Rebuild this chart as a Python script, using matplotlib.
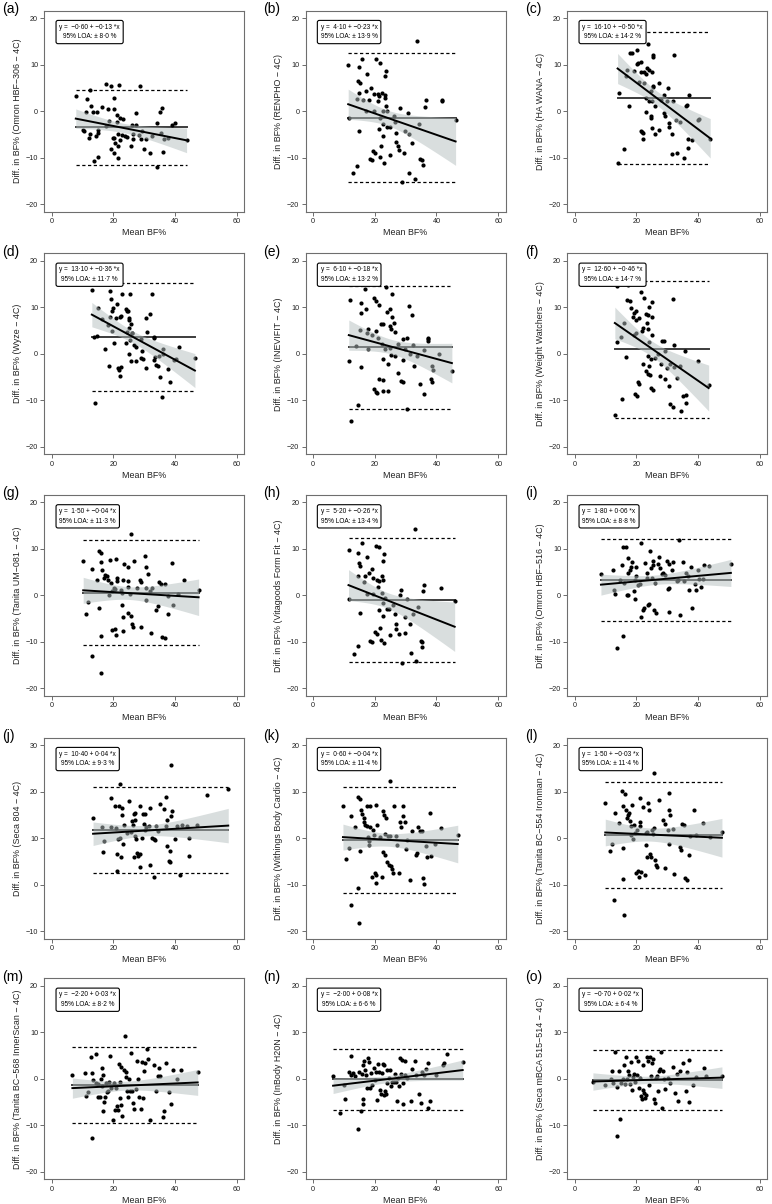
import numpy as np
import matplotlib.pyplot as plt

plt.rcParams['font.family'] = ['Liberation Sans', 'DejaVu Sans']

# (a) Omron HBF-306
a_x = [7.8, 11.4, 12.4, 12.8, 11.1, 13.3, 14.8, 16.4, 17.7, 19.2, 21.8, 28.6, 18.1, 20.3, 20.3, 21.1, 22.2,
       23.1, 18.5, 17.6, 21.0, 10.3, 10.6, 12.3, 12.2, 14.2, 15.0, 15.0, 19.8, 20.2, 21.5, 20.6, 22.0, 22.8,
       23.9, 21.5, 19.2, 20.2, 21.5, 15.0, 13.8, 25.6, 24.5, 26.5, 26.5, 26.0, 27.2, 27.4, 28.2, 28.8, 29.3,
       29.9, 30.5, 31.7, 32.4, 34.2, 35.0, 35.7, 35.4, 36.0, 34.2, 36.4, 37.6, 39.1, 39.8, 43.7]
a_y = [3.3, 2.6, 4.6, 1.1, -0.1, -0.3, -0.3, 0.9, 5.9, 5.4, 5.6, 5.4, 0.4, 2.8, 0.4, -0.9, -1.4,
       -1.8, -2.1, -3.1, -2.4, -4.0, -4.3, -5.0, -5.7, -5.4, -4.1, -4.6, -5.7, -5.7, -4.9, -6.8, -6.3, -5.1,
       -5.4, -7.6, -8.1, -8.9, -10.1, -9.8, -10.8, -7.6, -5.6, -6.1, -5.0, -2.9, -2.9, -0.4, -5.1, -6.0, -4.2,
       -8.2, -5.9, -9.1, -5.4, -2.6, -0.3, 0.6, -4.8, -8.7, -12.0, -6.0, -5.7, -3.0, -2.6, -6.2]

# (b) RENPHO
b_x = [11.4, 11.7, 12.8, 14.1, 14.3, 14.8, 14.6, 15.2, 14.8, 14.8, 15.9, 16.3, 17.5, 17.3, 17.3, 18.3, 18.7,
       18.4, 19.0, 19.8, 19.8, 19.5, 20.2, 20.5, 21.8, 20.9, 21.1, 21.4, 22.2, 23.2, 23.2, 23.5, 23.4, 23.7,
       22.8, 24.1, 21.6, 22.7, 21.3, 21.9, 22.7, 21.8, 23.0, 23.9, 25.0, 24.8, 26.1, 26.5, 26.8, 26.8, 27.6,
       27.9, 28.1, 28.8, 29.6, 29.7, 30.8, 31.1, 32.1, 31.1, 33.0, 33.6, 34.3, 34.7, 35.2, 35.7, 36.2, 36.5,
       41.8, 41.8, 46.2]
b_y = [9.9, -1.4, -13.2, 2.5, -11.9, 9.4, 6.4, 6.1, 3.8, -4.2, 11.3, 2.4, 7.9, 4.3, 0.1, 2.3, 5.0,
       -10.3, -10.6, 3.6, 0.1, -8.6, -9.1, 11.1, 10.3, 3.6, 2.1, 3.3, 3.9, 3.4, 2.9, 8.6, 7.6, 1.2,
       0.1, 0.0, -1.4, -2.7, -3.9, -7.4, -5.4, -9.9, -11.1, -3.4, -3.4, -9.4, -1.0, -2.3, -4.6, -6.7, -7.6,
       -8.4, 0.7, -15.3, -8.9, -4.2, -0.5, -5.0, -6.9, -13.2, -14.6, 15.1, -2.7, -10.4, -10.6, -11.6, 0.9, 2.4,
       2.4, 2.1, -1.9]

# (c) HA WANA
c_x = [14.2, 13.9, 16.1, 16.9, 16.5, 17.6, 17.8, 18.6, 19.3, 20.2, 20.2, 20.4, 20.8, 21.6, 21.6, 22.3, 22.3,
       23.2, 23.4, 23.9, 24.2, 25.3, 25.3, 25.1, 25.3, 25.5, 23.0, 24.7, 24.2, 25.1, 23.2, 21.6, 21.8, 22.1,
       22.1, 24.7, 24.8, 25.1, 25.9, 26.0, 27.3, 27.4, 28.1, 28.8, 29.0, 29.4, 29.9, 30.2, 30.4, 30.6, 31.5,
       31.6, 32.0, 32.2, 32.7, 33.3, 34.2, 35.3, 36.1, 36.3, 36.9, 36.7, 36.7, 38.1, 39.8, 40.2, 43.9]
c_y = [3.9, -11.1, -8.1, 8.8, 7.5, 1.2, 12.5, 12.5, 8.6, 13.1, 10.1, 10.4, 6.3, 10.6, 8.4, 8.4, 6.0,
       7.9, 9.3, 14.4, 8.8, 12.1, 11.6, 8.4, 5.1, 5.4, 2.9, 4.3, 2.1, 2.1, -0.2, -4.2, -4.4, -4.7,
       -6.0, -1.0, -1.4, -3.7, 1.0, -4.9, 6.1, -4.1, 2.3, 3.4, -0.5, -1.1, 2.1, 4.9, -2.6, -3.4, -4.9,
       -9.3, 2.1, 12.1, -1.9, -9.1, -2.3, -10.0, 1.0, 1.4, 3.4, -6.1, -7.9, -6.3, -2.0, -1.6, -5.9]

# (d) Wyze
d_x = [13.0, 14.1, 13.8, 14.6, 15.1, 16.3, 17.3, 18.1, 18.5, 18.7, 18.9, 19.2, 19.5, 19.8, 19.5, 18.9, 20.3,
       21.3, 20.9, 22.2, 22.6, 21.6, 21.9, 22.2, 22.6, 22.9, 24.1, 24.4, 24.6, 24.1, 24.4, 25.0, 25.2, 25.2,
       25.4, 25.7, 25.9, 26.1, 25.4, 25.1, 25.7, 26.7, 27.4, 27.2, 29.0, 29.2, 29.0, 29.5, 30.4, 30.6, 31.0,
       31.7, 32.4, 33.0, 33.2, 33.1, 33.6, 33.9, 34.3, 34.9, 35.1, 35.6, 35.9, 36.2, 37.7, 38.4, 39.7, 40.2,
       41.2, 46.4]
d_y = [13.8, -10.6, 3.6, 3.8, 9.9, 7.5, 1.1, 6.2, -2.7, 15.1, 13.4, 11.8, 9.3, 9.9, 4.8, 8.0, 2.4,
       10.8, 7.7, 7.9, 8.2, -3.0, -3.4, -4.7, -2.8, 12.8, 9.7, 9.1, 9.3, 2.4, 4.7, 7.2, 7.7, 5.6,
       12.8, 6.3, 4.5, 4.4, 3.0, -0.1, -1.6, 1.8, 1.4, -1.6, 3.2, 0.6, -0.9, -1.1, -3.0, 7.6, 4.6,
       8.6, 12.9, 3.7, 3.3, -1.4, -0.7, -2.4, -2.7, -0.4, -4.9, -9.3, 0.0, 1.0, -3.3, -6.0, -1.4, -1.1,
       1.5, -0.8]

# (e) INEVIFIT
e_x = [11.6, 12.1, 12.2, 13.9, 14.5, 15.2, 15.5, 15.7, 15.7, 17.0, 17.2, 17.4, 17.8, 17.8, 19.0, 19.6, 20.3,
       20.4, 20.9, 21.3, 19.8, 20.3, 20.7, 21.3, 22.1, 22.4, 22.7, 22.7, 22.8, 22.8, 23.2, 23.8, 24.1, 24.2,
       24.3, 24.8, 25.0, 25.4, 25.5, 25.6, 26.3, 26.5, 24.8, 25.3, 26.5, 27.6, 27.5, 28.6, 29.2, 29.3, 29.3,
       30.5, 29.7, 30.5, 31.1, 31.4, 32.1, 32.5, 32.8, 33.6, 34.6, 36.0, 36.0, 37.1, 37.1, 37.1, 38.1, 38.5,
       38.4, 38.9, 40.9, 45.0]
e_y = [-1.5, 11.6, -14.4, 1.7, -11.1, 5.2, -2.9, 8.8, 11.0, 14.0, 9.6, 4.4, 5.4, 1.1, 4.1, 12.0, 4.9,
       11.4, 3.4, 10.5, -7.5, -8.2, -8.4, -5.4, 6.4, 2.2, 6.4, -5.6, -1.2, -8.0, 1.1, 14.3, 9.0, -8.1,
       -2.2, 6.0, 9.7, 5.4, 8.0, 12.8, 6.7, 4.7, 1.2, -0.3, -0.4, 2.2, -4.1, -5.8, -6.0, -1.4, 3.2,
       3.4, 1.0, -11.8, 10.3, 0.0, 8.4, 1.8, -2.7, -0.4, -6.5, -8.7, 0.8, 3.5, 3.1, 2.7, -5.4, -2.7,
       -6.1, -3.5, 0.0, -3.8]

# (f) Weight Watchers
f_x = [13.0, 13.6, 13.7, 14.9, 15.3, 16.1, 16.6, 17.4, 17.1, 18.0, 18.4, 18.9, 19.3, 19.7, 19.7, 20.7, 19.3,
       19.9, 19.5, 20.1, 20.4, 20.8, 21.4, 21.7, 22.2, 22.5, 23.0, 23.6, 23.4, 24.1, 23.7, 24.1, 23.8, 23.2,
       23.8, 24.1, 22.0, 24.5, 24.7, 25.1, 25.1, 25.1, 24.8, 25.5, 26.1, 26.9, 27.7, 28.0, 28.2, 29.0, 29.2,
       29.3, 29.9, 30.5, 30.8, 30.9, 31.8, 31.8, 32.1, 32.2, 33.0, 34.0, 34.3, 35.1, 35.7, 36.1, 36.1, 40.0,
       43.4]
f_y = [-13.2, 2.5, 14.6, 3.7, -9.8, 6.6, -0.6, 14.7, 11.6, 11.4, 9.9, 7.9, 8.7, 9.1, 7.3, 7.6, 4.0,
       4.4, -8.7, -9.0, -6.1, -6.5, 13.3, 4.8, 5.5, 11.9, 8.6, 8.4, 6.7, 10.1, 5.3, 2.6, -0.5, -3.7,
       -4.4, -2.7, -2.1, -4.6, -1.2, 11.2, 8.0, 4.0, -7.4, -7.7, -1.0, -0.1, -4.7, -2.1, 2.8, 2.8, 0.7,
       -5.4, -3.1, -7.0, -2.1, -10.7, -11.4, 11.7, 1.9, -2.8, -5.1, -2.7, -12.3, -9.0, 0.5, -8.9, -10.6, -1.5,
       -6.7]

# (g) Tanita UM-081
g_x = [10.2, 11.0, 11.6, 12.9, 13.1, 14.6, 15.4, 15.9, 15.9, 15.4, 15.9, 15.9, 16.4, 17.0, 17.4, 17.8, 18.3,
       18.6, 18.9, 19.3, 19.6, 20.1, 20.5, 19.6, 20.4, 20.9, 20.9, 21.2, 21.2, 22.3, 22.8, 22.8, 23.0, 23.1,
       23.2, 23.4, 24.7, 24.7, 24.7, 24.8, 25.6, 25.3, 25.8, 26.1, 26.3, 26.8, 27.5, 28.5, 28.8, 28.8, 30.1,
       30.4, 30.7, 31.1, 30.7, 32.0, 32.3, 32.6, 33.9, 34.6, 34.9, 35.5, 35.8, 36.6, 36.8, 37.7, 37.7, 39.0,
       39.3, 40.8, 42.8, 47.6]
g_y = [7.5, -4.0, -1.5, -13.0, 5.6, 3.4, 9.5, 9.2, 7.1, -2.7, -8.7, -16.6, 5.5, 3.8, 4.4, 4.2, 3.4,
       0.1, 7.7, 2.7, 0.9, 1.6, 1.4, -7.5, -7.2, -8.5, 7.9, 3.7, 3.2, 1.1, 0.5, -2.1, -4.7, -7.7,
       3.4, 6.7, 6.0, 3.1, 1.8, -3.8, -4.5, 0.4, 13.3, -6.2, -6.7, 7.5, 1.6, 3.4, 2.9, -6.8, 8.5,
       1.6, 6.0, 4.7, -0.9, 0.9, -8.1, 1.6, -3.2, -2.2, 2.9, 2.5, -9.0, -9.1, 2.4, -0.1, -3.9, 7.0,
       -2.1, 0.3, 3.4, 1.1]

# (h) Vitagoods Form Fit
h_x = [11.5, 11.8, 13.2, 14.5, 14.7, 15.0, 15.3, 14.7, 15.3, 15.8, 16.6, 17.4, 16.9, 17.5, 18.2, 18.5, 19.1,
       19.1, 19.5, 19.5, 20.1, 20.7, 20.3, 21.4, 20.7, 21.4, 21.1, 21.4, 21.7, 21.9, 22.2, 22.6, 23.1, 22.6,
       22.4, 22.6, 22.8, 23.1, 23.3, 23.9, 24.6, 25.0, 25.8, 26.6, 27.0, 27.0, 27.8, 28.1, 28.5, 28.7, 29.7,
       29.7, 30.6, 31.3, 31.6, 32.5, 33.0, 33.5, 34.1, 34.9, 35.2, 35.4, 36.0, 35.7, 41.6, 45.9]
h_y = [9.8, -0.7, -12.7, -10.9, 9.2, 7.0, 6.4, 4.2, -3.7, 11.2, 2.8, 8.2, 4.2, 0.4, 4.8, -9.7, -10.0,
       5.7, 0.4, 3.8, -7.9, -8.3, 10.7, 10.3, 3.4, 3.1, 1.9, -3.2, -7.0, -9.5, 4.2, 7.3, 8.9, 3.4,
       0.6, -1.6, -4.5, -10.2, -0.6, -2.9, -2.9, -8.6, -2.0, -3.9, -6.1, -7.2, -8.4, 0.0, 1.2, -14.6, -4.7,
       -8.1, -0.7, -6.1, -12.3, -3.9, 14.3, -14.2, -2.5, -9.7, -10.1, -11.1, 2.3, 0.9, 1.6, -1.3]

# (i) Omron HBF-516
i_x = [8.5, 12.5, 12.8, 13.1, 13.8, 14.7, 15.4, 15.8, 16.6, 15.7, 16.0, 16.8, 17.3, 17.3, 17.4, 17.9, 18.2,
       18.7, 19.2, 19.5, 19.5, 19.8, 19.8, 20.5, 21.1, 21.6, 21.6, 22.1, 22.6, 22.7, 23.4, 23.5, 23.7, 24.0,
       24.3, 24.6, 25.0, 25.3, 25.4, 25.6, 26.1, 26.2, 26.9, 27.2, 27.5, 28.2, 28.5, 29.1, 29.8, 30.1, 30.7,
       30.7, 30.4, 31.5, 32.0, 33.0, 33.4, 33.9, 34.2, 35.2, 35.5, 36.2, 36.8, 37.1, 37.8, 38.1, 39.0, 39.4,
       40.0, 40.3, 41.0, 41.6, 41.9, 43.5, 50.6]
i_y = [4.5, 5.5, 1.1, 0.4, -11.3, 3.4, 6.5, 10.5, 10.5, -8.7, 2.7, 0.0, 0.0, 8.0, 4.9, 5.5, 6.2,
       7.1, 0.9, -0.8, 3.4, 6.1, 4.2, 2.2, 2.4, 11.3, -4.7, -3.1, -2.8, 6.9, 4.8, 3.8, -2.1, -1.8,
       9.5, 5.8, 3.7, 7.5, 6.5, -3.1, 2.7, -3.8, 6.7, 8.3, 5.8, 4.5, 4.9, 4.3, 7.5, 1.3, 6.7,
       1.6, -3.5, 5.4, 7.2, 3.1, 3.4, 12.0, -4.2, 7.2, 3.2, 4.8, 4.2, 1.2, 6.2, -2.8, 2.4, 1.1,
       5.5, 3.5, 1.9, 3.5, 6.5, 6.4, 6.7]

# (j) Seca 804
j_x = [13.4, 16.2, 16.6, 16.9, 19.3, 19.3, 20.5, 20.9, 21.0, 21.2, 21.5, 21.8, 22.1, 22.1, 22.5, 22.8, 22.8,
       23.1, 23.4, 24.4, 25.0, 25.6, 25.9, 26.2, 26.6, 26.6, 26.9, 27.1, 27.1, 27.2, 27.5, 27.9, 28.5, 28.5,
       28.5, 29.1, 29.5, 29.8, 30.1, 30.1, 30.7, 31.4, 32.0, 32.0, 32.6, 33.0, 33.3, 33.6, 33.9, 34.6, 35.2,
       36.5, 37.1, 37.1, 37.3, 37.4, 37.9, 38.2, 38.4, 38.7, 38.7, 38.9, 40.1, 40.6, 41.6, 42.2, 43.8, 44.4,
       44.4, 47.0, 50.2, 57.2]
j_y = [14.3, 12.3, 7.1, 9.3, 18.6, 12.3, 16.9, 12.2, 2.9, 6.6, 9.9, 16.9, 21.7, 10.0, 6.0, 16.5, 14.9,
       8.7, 12.9, 11.1, 18.0, 11.4, 13.6, 12.9, 6.0, 15.1, 15.5, 13.9, 10.5, 9.8, 6.9, 6.1, 16.8, 6.6,
       3.7, 10.0, 15.2, 13.1, 15.2, 11.7, 12.3, 12.7, 16.5, 4.3, 10.0, 1.7, 9.7, 9.6, 12.7, 11.6, 17.3,
       16.3, 18.8, 12.7, 8.4, 13.9, 5.1, 4.8, 7.2, 25.7, 14.7, 15.9, 9.7, 12.6, 2.0, 12.8, 12.6, 6.1,
       10.0, 12.9, 19.3, 20.6]

# (k) Withings Body Cardio
k_x = [9.7, 10.7, 11.5, 12.3, 12.4, 13.7, 14.5, 14.7, 15.0, 15.3, 15.3, 15.6, 15.9, 16.6, 16.6, 16.9, 17.4,
       17.5, 17.9, 18.2, 18.2, 18.5, 18.5, 19.1, 19.5, 19.8, 20.1, 20.4, 20.4, 20.4, 20.7, 21.7, 22.3, 22.6,
       22.6, 22.9, 23.3, 23.3, 23.6, 23.9, 24.2, 24.6, 24.9, 24.9, 25.2, 25.5, 25.8, 26.2, 26.8, 27.1, 27.8,
       28.1, 28.4, 29.0, 29.3, 29.7, 30.0, 30.3, 31.3, 32.2, 33.5, 33.8, 34.1, 34.8, 35.4, 35.7, 36.0, 36.7,
       37.0, 37.9, 38.3, 39.4, 41.5, 46.9]
k_y = [6.9, -4.5, -2.2, -14.4, 4.8, 2.3, -10.7, 8.9, -18.3, 8.4, -2.7, 6.1, 5.1, 4.3, 3.4, 2.8, 6.9,
       2.7, 0.3, -0.6, -1.5, 2.3, 7.0, -8.4, 1.8, 0.6, -7.4, -9.6, -7.9, 7.1, 2.8, 0.3, -8.3, -3.0,
       5.8, 5.0, -3.7, 0.9, 4.3, -5.1, 0.5, -5.8, 12.2, 0.5, -6.0, -6.7, -7.4, 6.9, 0.5, -1.5, -7.4,
       3.5, 2.3, 7.0, 4.8, 3.4, -2.4, -0.4, -8.9, 1.5, -3.7, -3.1, 2.3, 1.5, 1.6, -8.6, -9.8, -1.7,
       -4.1, 5.3, -3.8, -1.2, 2.2, 0.7]

# (l) Tanita BC-554 Ironman
l_x = [9.9, 11.5, 12.0, 12.8, 13.0, 14.4, 15.4, 15.7, 15.7, 15.7, 16.0, 16.3, 16.6, 17.0, 17.3, 17.6, 17.9,
       18.2, 18.4, 18.7, 19.0, 19.2, 19.5, 19.8, 20.2, 20.5, 20.8, 21.1, 21.1, 21.0, 21.4, 22.1, 22.7, 23.0,
       23.0, 23.4, 23.5, 23.8, 24.0, 24.3, 24.6, 25.1, 25.3, 25.6, 25.8, 25.9, 26.2, 26.6, 27.2, 28.5, 29.1,
       29.1, 30.1, 30.4, 30.7, 31.0, 30.4, 32.0, 32.3, 34.2, 34.4, 34.9, 35.5, 35.8, 36.5, 37.1, 37.4, 38.6,
       39.2, 41.6, 43.8, 47.7]
l_y = [7.5, -2.8, -1.2, -13.3, 5.4, 3.2, 10.2, 6.8, -2.2, -8.7, -16.5, 9.4, 6.1, 4.3, 5.0, 5.3, 3.7,
       0.6, 2.5, 7.1, -0.2, 2.9, 1.2, -7.4, 1.8, -7.1, -8.4, 3.4, 2.5, 8.6, -7.3, 6.6, -8.0, 1.2,
       -1.4, -4.0, 1.4, 7.6, 6.0, -3.5, -4.0, 1.7, 0.9, 2.1, 13.9, -4.8, -5.8, -6.3, 8.2, 3.8, 3.0,
       -6.4, 1.7, 9.7, 6.1, 5.0, -1.2, 1.9, -7.8, -2.0, -2.5, 3.1, 2.9, -8.6, -9.0, -3.6, 0.5, 6.0,
       0.6, 3.3, 0.2, 1.4]

# (m) Tanita BC-568 InnerScan
m_x = [6.7, 10.7, 11.0, 11.6, 12.6, 12.9, 13.1, 13.5, 14.2, 14.3, 14.9, 15.1, 15.8, 15.9, 16.2, 16.4, 16.6,
       16.7, 17.0, 17.4, 17.5, 17.8, 18.3, 18.6, 18.9, 19.3, 19.9, 20.2, 20.5, 20.9, 21.2, 21.5, 21.8, 22.0,
       22.1, 22.5, 22.6, 22.9, 23.4, 23.7, 24.0, 24.2, 24.4, 24.7, 25.0, 25.3, 25.6, 25.9, 26.3, 26.6, 27.2,
       27.5, 27.9, 28.2, 28.8, 29.1, 29.5, 29.8, 30.1, 31.1, 30.9, 31.7, 33.0, 33.9, 34.6, 34.9, 35.2, 36.1,
       36.5, 37.1, 38.1, 38.7, 39.3, 40.6, 41.9, 47.3]
m_y = [0.9, 1.3, -3.6, -2.8, 4.6, 1.2, -12.8, -0.2, 5.4, -0.8, -1.1, -3.9, -3.9, 0.0, 2.4, -1.6, 0.9,
       -6.9, -5.0, -4.0, -1.0, -2.9, -2.7, -0.7, 5.0, -2.0, -8.8, -1.0, -6.7, -2.0, -5.9, -6.7, 3.1, -4.2,
       -0.7, 2.6, -5.6, -7.9, 1.9, 9.1, 1.4, 0.4, -2.6, -4.0, 0.0, -2.6, 5.5, -2.6, -5.2, -6.4, -2.1,
       3.9, 0.0, -4.0, -6.4, 3.6, -4.2, 1.6, 3.4, 4.3, 6.4, -8.8, 3.0, -2.6, 0.6, 2.3, 0.6, -8.2,
       -7.0, 3.4, -2.9, -5.4, 1.9, 0.0, 1.9, 1.4]

# (n) InBody H20N
n_x = [6.5, 8.6, 10.2, 10.4, 11.5, 12.3, 12.4, 13.1, 13.7, 14.5, 15.0, 15.6, 15.9, 16.1, 16.3, 16.3, 16.6,
       16.9, 17.2, 17.5, 17.9, 18.2, 18.5, 18.8, 19.1, 19.8, 20.1, 20.4, 20.7, 21.1, 21.4, 21.7, 22.0, 22.3,
       22.6, 23.0, 23.1, 23.3, 23.6, 23.9, 24.1, 24.6, 24.9, 25.2, 25.5, 26.2, 26.5, 26.8, 27.1, 27.4, 27.8,
       28.1, 28.4, 28.7, 29.0, 29.3, 29.7, 29.8, 30.3, 31.6, 32.2, 32.9, 33.5, 34.4, 35.1, 35.4, 36.0, 36.7,
       37.3, 37.8, 37.3, 39.9, 42.1, 42.4, 43.4, 48.5]
n_y = [0.6, -7.3, -1.3, -4.4, 1.4, 4.8, 0.9, 1.2, 0.6, -10.7, 1.4, -7.0, 1.1, -4.4, -5.4, 3.0, 3.9,
       1.9, 0.9, -2.0, 4.4, 3.7, -1.9, 1.2, -1.3, 2.4, -0.3, 1.4, -4.5, 3.1, 1.4, -2.4, -3.3, 1.3,
       3.2, -3.4, 3.0, -2.6, -3.3, 1.9, -1.0, 0.2, 1.9, -1.6, -0.7, -0.6, 1.0, -0.6, -4.7, 0.1, -1.6,
       4.4, 1.1, 4.0, -1.0, -5.4, 3.9, 0.9, 0.1, -4.7, 2.1, 3.9, 0.9, -3.3, -5.1, 1.4, 0.9, 2.1,
       -6.3, -4.7, 3.3, 0.9, 3.0, 3.4, 5.4, 3.6]

# (o) Seca mBCA 515-514
o_x = [5.9, 9.9, 11.8, 12.2, 12.5, 13.0, 13.6, 13.8, 14.4, 14.7, 15.0, 15.7, 16.0, 16.3, 16.6, 17.0, 17.3,
       17.6, 17.9, 18.2, 18.6, 18.9, 19.2, 19.5, 19.8, 20.2, 20.5, 20.8, 21.1, 21.4, 21.8, 22.1, 22.1, 22.4,
       22.7, 23.0, 23.4, 23.7, 24.0, 24.3, 24.6, 25.0, 25.3, 25.6, 25.9, 26.2, 26.6, 26.9, 27.2, 27.5, 27.8,
       28.2, 28.5, 28.8, 29.4, 30.1, 31.0, 32.0, 32.6, 33.0, 33.6, 34.2, 35.2, 36.2, 36.5, 37.1, 37.1, 38.4,
       39.4, 41.9, 42.7, 47.7]
o_y = [-0.7, -1.4, 0.0, 1.7, -1.0, 5.7, -1.8, -12.2, 1.7, -8.7, -0.9, 0.0, 3.0, -1.1, 4.6, 0.0, 1.6,
       0.9, -1.1, 3.6, -2.3, 0.3, 1.0, -0.7, 4.7, 0.9, 3.9, -2.0, 0.1, -3.6, -4.4, 2.9, -2.4, -3.1,
       -4.2, -3.4, 4.7, 3.9, -1.4, 4.6, 0.5, 3.3, 4.3, -4.4, -5.3, 0.1, 0.5, -2.6, 1.7, 2.1, 5.7,
       -6.2, 1.6, -0.1, -2.2, 0.1, -0.9, 2.6, -3.1, 1.0, -4.7, 1.6, 3.3, -2.7, 1.4, 4.1, -5.0, -1.4,
       0.3, 2.3, 0.5, 0.6]

devices = ['Omron HBF\u2212306', 'RENPHO', 'HA WANA', 'Wyze', 'INEVIFIT', 'Weight Watchers',
           'Tanita UM\u2212081', 'Vitagoods Form Fit', 'Omron HBF\u2212516', 'Seca 804',
           'Withings Body Cardio', 'Tanita BC\u2212554 Ironman', 'Tanita BC\u2212568 InnerScan',
           'InBody H20N', 'Seca mBCA 515\u2212514']
panel_tags = ['(a)', '(b)', '(c)', '(d)', '(e)', '(f)', '(g)', '(h)', '(i)', '(j)', '(k)', '(l)', '(m)', '(n)', '(o)']
intercepts = [-0.60, 4.10, 16.10, 13.10, 6.10, 12.60, 1.50, 5.20, 1.80, 10.40, 0.60, 1.50, -2.20, -2.00, -0.70]
slopes = [-0.13, -0.23, -0.50, -0.36, -0.18, -0.46, -0.04, -0.26, 0.06, 0.04, -0.04, -0.03, 0.03, 0.08, 0.02]
bias = [-3.5, -1.4, 2.9, 3.6, 1.4, 1.0, 0.6, -1.0, 3.3, 11.7, -0.4, 0.7, -1.4, -0.1, -0.2]
loa = [8.0, 13.9, 14.2, 11.7, 13.2, 14.7, 11.3, 13.4, 8.8, 9.3, 11.4, 11.4, 8.2, 6.6, 6.4]

xs = [a_x, b_x, c_x, d_x, e_x, f_x, g_x, h_x, i_x, j_x, k_x, l_x, m_x, n_x, o_x]
ys = [a_y, b_y, c_y, d_y, e_y, f_y, g_y, h_y, i_y, j_y, k_y, l_y, m_y, n_y, o_y]


def fmt(v, nd=2):
    s = f'{v:.{nd}f}'.replace('.', '\u00b7')
    return s.replace('-', '\u2212')


W, H = 772, 1204
fig = plt.figure(figsize=(W / 100, H / 100), dpi=100)

col_left = [44.3, 305.6, 567.3]
row_top = [10.6, 253.3, 494.9, 737.6, 978.3]
box_w, box_h = 200, 201

for k in range(15):
    r, c = divmod(k, 3)
    left, top = col_left[c], row_top[r]
    ax = fig.add_axes([left / W, 1 - (top + box_h) / H, box_w / W, box_h / H])

    x = np.array(xs[k])
    y = np.array(ys[k])
    x0, x1 = x.min(), x.max()

    # bias and limits of agreement
    ax.plot([x0, x1], [bias[k], bias[k]], color='#3c3c3c', lw=1.4, zorder=2)
    ax.plot([x0, x1], [bias[k] + loa[k]] * 2, color='black', lw=0.9, ls=(0, (2.6, 2.0)), zorder=2)
    ax.plot([x0, x1], [bias[k] - loa[k]] * 2, color='black', lw=0.9, ls=(0, (2.6, 2.0)), zorder=2)

    ax.scatter(x, y, s=9, color='black', lw=0, zorder=3)

    # regression line with 95% CI band
    xg = np.linspace(x0, x1, 100)
    fit = intercepts[k] + slopes[k] * xg
    res = y - (intercepts[k] + slopes[k] * x)
    n = len(x)
    s = np.sqrt(np.sum(res ** 2) / (n - 2))
    se = s * np.sqrt(1 / n + (xg - x.mean()) ** 2 / np.sum((x - x.mean()) ** 2))
    ax.fill_between(xg, fit - 1.997 * se, fit + 1.997 * se, color='#b4bebe', alpha=0.5, lw=0, zorder=4)
    ax.plot(xg, fit, color='black', lw=1.4, zorder=5)

    ax.set_xlim(-2.4, 62.4)
    ax.set_xticks([0, 20, 40, 60])
    if k == 9:
        ax.set_ylim(-11.6, 31.6)
        ax.set_yticks([-10, 0, 10, 20, 30])
    else:
        ax.set_ylim(-21.6, 21.6)
        ax.set_yticks([-20, -10, 0, 10, 20])

    for sp in ax.spines.values():
        sp.set_color('#6e6e6e')
        sp.set_linewidth(0.8)
    ax.tick_params(length=3, width=0.6, color='#555555', labelsize=5.2, pad=1.5, labelcolor='#222222')
    ax.set_xlabel('Mean BF%', fontsize=6.4, labelpad=2.5, color='#222222')
    ax.set_ylabel(f'Diff. in BF% ({devices[k]} \u2212 4C)', fontsize=6.4, labelpad=3, color='#222222')

    eq = f'y =  {fmt(intercepts[k])} + {fmt(slopes[k])} *x\n95% LOA: \u00b1 {fmt(loa[k], 1)} %'
    ax.text(0.075, 0.935, eq, transform=ax.transAxes, fontsize=4.7, va='top', ha='left',
            multialignment='center', linespacing=1.55, zorder=6,
            bbox=dict(boxstyle='round,pad=0.5,rounding_size=0.3', fc='white', ec='black', lw=0.8))

    fig.text((left - 42) / W, 1 - (top - 8.5) / H, panel_tags[k], fontsize=10, va='top', ha='left')

fig.savefig('out.png', dpi=100)
